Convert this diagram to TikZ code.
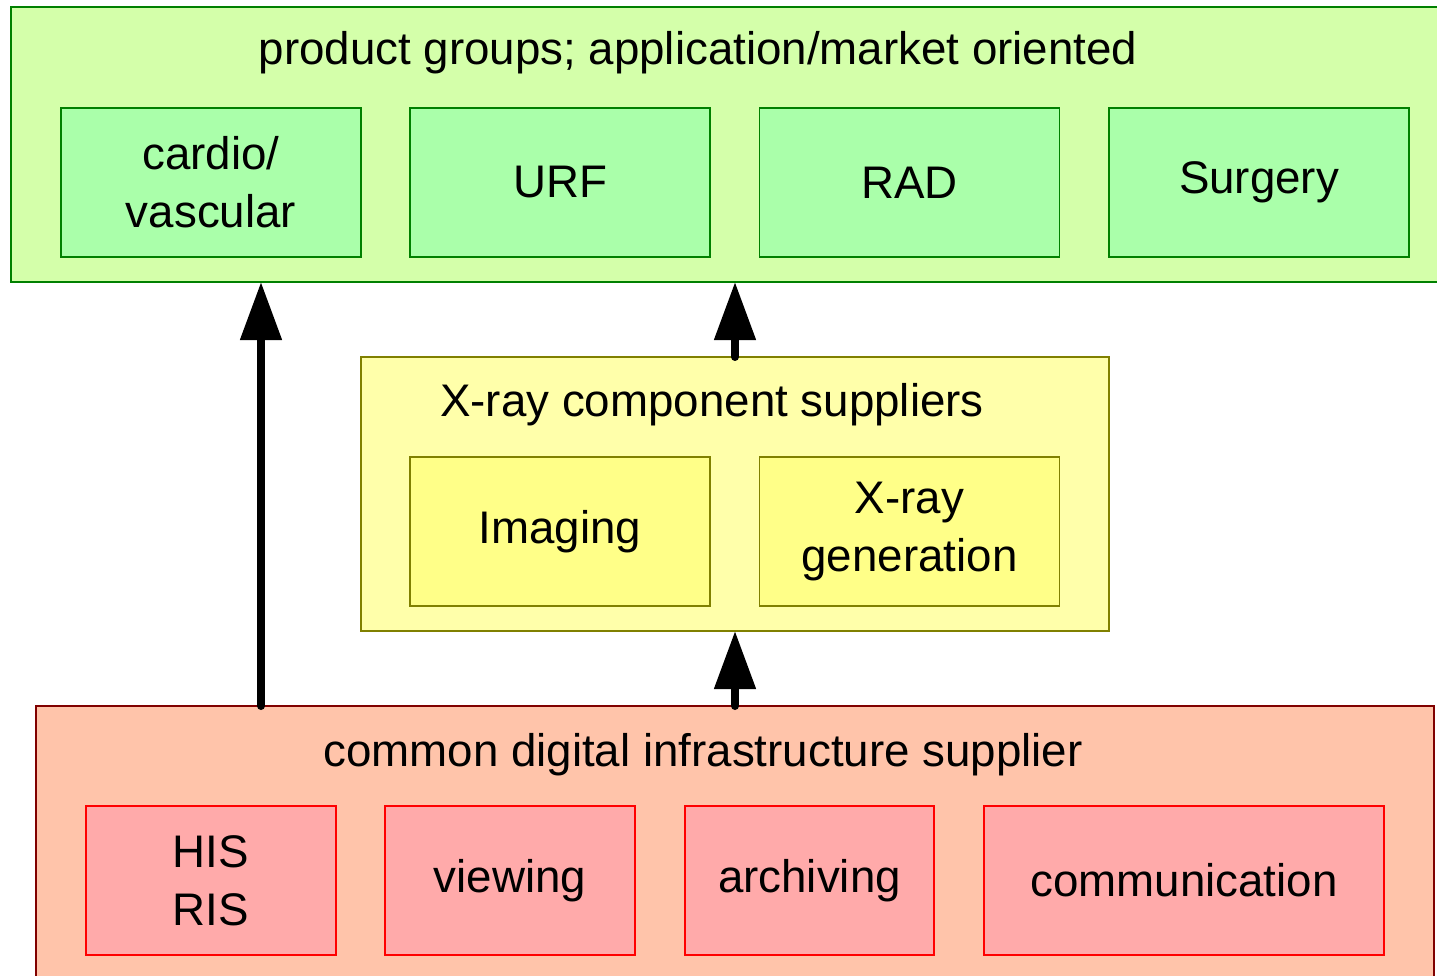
\documentclass[tikz,border=0pt]{standalone}
\usepackage{fontspec}
\setmainfont{Liberation Sans}
\usepackage{tikz}
\usetikzlibrary{arrows.meta,positioning}
\definecolor{groupfill}{HTML}{D4FFAA}
\definecolor{groupinner}{HTML}{AAFFAA}
\definecolor{groupline}{HTML}{008000}
\definecolor{compfill}{HTML}{FFFFAA}
\definecolor{compinner}{HTML}{FFFF88}
\definecolor{compline}{HTML}{808000}
\definecolor{infrafill}{HTML}{FFC4AA}
\definecolor{infrainner}{HTML}{FFAAAA}
\definecolor{infraline}{HTML}{800000}
\definecolor{infraedge}{HTML}{FF0000}
\tikzset{
  every node/.style={
    font=\fontsize{13pt}{16.5pt}\selectfont
  },
  outerbox/.style n args={2}{
    shape=rectangle,
    fill=#1,
    draw=#2,
    line width=0.5pt,
    inner sep=0pt,
    outer sep=0pt
  },
  unit/.style n args={2}{
    shape=rectangle,
    fill=#1,
    draw=#2,
    line width=0.5pt,
    minimum width=3cm,
    minimum height=1.49cm,
    align=center,
    inner sep=0pt,
    outer sep=0pt
  },
  boxtitle/.style={
    anchor=base,
    inner sep=0pt
  },
  supply/.style={
    line width=0.08cm,
    line cap=round,
    -{Triangle[width=0.4cm,length=0.58cm]}
  }
}
\begin{document}
\begin{tikzpicture}
\useasboundingbox (0,0) rectangle (14.37,-9.76);
\clip (0,0) rectangle (14.37,-9.76);

% product groups
\node [outerbox={groupfill}{groupline}, minimum width=14.39cm, minimum height=2.75cm]
  (productsbox) at (7.305,-1.445) {};
\node [boxtitle] (productstitle) at (6.98,-0.65)
  {product groups; application/market oriented};
\node [unit={groupinner}{groupline}] (cardio) at (2.11,-1.825) {cardio/\\vascular};
\node [unit={groupinner}{groupline}, right=0.49cm of cardio] (urf) {URF};
\node [unit={groupinner}{groupline}, right=0.495cm of urf] (rad) {RAD};
\node [unit={groupinner}{groupline}, right=0.495cm of rad] (surgery) {Surgery};

% X-ray component suppliers
\node [outerbox={compfill}{compline}, minimum width=7.48cm, minimum height=2.74cm]
  (compbox) at (7.35,-4.94) {};
\node [boxtitle] (comptitle) at (7.12,-4.17) {X-ray component suppliers};
\node [unit={compinner}{compline}] (imaging) at (5.60,-5.315) {Imaging};
\node [unit={compinner}{compline}, right=0.495cm of imaging] (xraygen) {X-ray\\generation};

% common digital infrastructure supplier
\node [outerbox={infrafill}{infraline}, minimum width=13.98cm, minimum height=2.79cm]
  (infrabox) at (7.35,-8.455) {};
\node [boxtitle] (infratitle) at (7.03,-7.66) {common digital infrastructure supplier};
\node [unit={infrainner}{infraedge}, minimum width=2.5cm] (hisris) at (2.11,-8.805) {HIS\\RIS};
\node [unit={infrainner}{infraedge}, minimum width=2.5cm, right=0.49cm of hisris] (viewing) {viewing};
\node [unit={infrainner}{infraedge}, minimum width=2.49cm, right=0.5cm of viewing] (archiving) {archiving};
\node [unit={infrainner}{infraedge}, minimum width=4cm, right=0.5cm of archiving] (communication) {communication};

% arrows
\coordinate (infraout) at ([xshift=2.25cm]infrabox.north west);
\draw [supply] (infraout) -- (infraout |- productsbox.south);
\draw [supply] (compbox.north) -- (compbox.north |- productsbox.south);
\draw [supply] (infrabox.north) -- (compbox.south);

\end{tikzpicture}
\end{document}
